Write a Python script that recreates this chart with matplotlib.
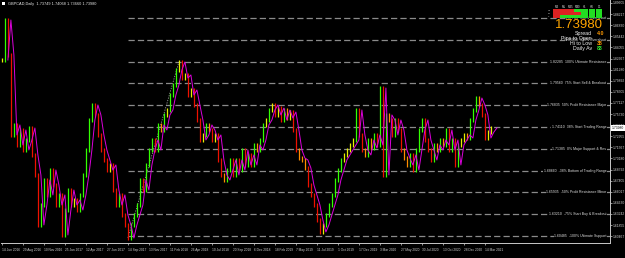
import numpy as np
import matplotlib
matplotlib.use("Agg")
import matplotlib.pyplot as plt
from matplotlib.patches import Rectangle
from matplotlib.transforms import blended_transform_factory

# ---------------- data ----------------
symbol_title = "GBPCAD,Daily  1.73749 1.74068 1.73660 1.73980"
closes = [
    1.8248, 1.8748, 1.8311, 1.7311, 1.7436, 1.7186, 1.7373, 1.7123, 1.7248, 1.7398,
    1.7061, 1.6811, 1.6186, 1.6436, 1.6748, 1.6561, 1.6873, 1.6686, 1.6436, 1.6561,
    1.6061, 1.6373, 1.6623, 1.6436, 1.6498, 1.6373, 1.6561, 1.6811, 1.7123, 1.7498,
    1.7686, 1.7561, 1.7311, 1.7123, 1.6998, 1.6873, 1.6936, 1.6623, 1.6436, 1.6561,
    1.6311, 1.6186, 1.6023, 1.6186, 1.6311, 1.6436, 1.6748, 1.6623, 1.6936, 1.7123,
    1.7248, 1.7123, 1.7436, 1.7373, 1.7561, 1.7623, 1.7811, 1.7936, 1.8123, 1.8223,
    1.8023, 1.8061, 1.7811, 1.7873, 1.7686, 1.7498, 1.7248, 1.7311, 1.7436, 1.7373,
    1.7248, 1.7311, 1.6998, 1.6811, 1.6748, 1.6873, 1.6998, 1.6811, 1.6998, 1.6873,
    1.7123, 1.6936, 1.7061, 1.6936, 1.7186, 1.7123, 1.7248, 1.7436, 1.7498, 1.7623,
    1.7686, 1.7561, 1.7648, 1.7498, 1.7623, 1.7523, 1.7598, 1.7373, 1.7123, 1.7023,
    1.6998, 1.6898, 1.6686, 1.6561, 1.6436, 1.6248, 1.6098, 1.6186, 1.6311, 1.6436,
    1.6561, 1.6748, 1.6873, 1.6998, 1.7061, 1.7123, 1.7186, 1.7248, 1.7623, 1.7311,
    1.7123, 1.7061, 1.7248, 1.7148, 1.7311, 1.7186, 1.7898, 1.6811, 1.7561, 1.7498,
    1.7311, 1.7498, 1.7373, 1.7123, 1.7023, 1.6936, 1.7061, 1.6873, 1.7123, 1.7373,
    1.7498, 1.7248, 1.7123, 1.6998, 1.7186, 1.7123, 1.7248, 1.7186, 1.7373, 1.7123,
    1.7248, 1.6936, 1.7186, 1.7248, 1.7311, 1.7273, 1.7498, 1.7623, 1.7773, 1.7686,
    1.7561, 1.7273, 1.7348, 1.7398,
]
date_labels = ["14 Jun 2016", "29 Aug 2016", "10 Nov 2016", "25 Jan 2017", "12 Apr 2017",
               "27 Jun 2017", "14 Sep 2017", "13 Nov 2017", "11 Feb 2018", "26 Apr 2018",
               "10 Jul 2018", "20 Sep 2018", "6 Dec 2018", "18 Feb 2019", "7 May 2019",
               "11 Jul 2019", "1 Oct 2019", "17 Dec 2019", "3 Mar 2020", "27 May 2020",
               "30 Jul 2020", "13 Oct 2020", "28 Dec 2020", "14 Mar 2021"]
fib_levels = [1.87735, 1.85010, 1.82285, 1.79560, 1.76835, 1.74110,
              1.71385, 1.68660, 1.65935, 1.63210, 1.60485]
fib_names = ["150% Overshoot", "125% Overshoot", "100% Ultimate Resistance",
             "75% Start Sell & Breakout", "50% Profit Resistance Major",
             "38% Start Trading Range", "0% Major Support & Res",
             "-38% Bottom of Trading Range", "-50% Profit Resistance Minor",
             "-75% Start Buy & Breakout", "-100% Ultimate Support"]
fib_start_index = 42
trend_from, trend_to = 42, 59
timeframes = ["M1", "M5", "M15", "M30", "H1", "H4", "D1"]
strength_rows = [[0, 0, 0, 1, 1, 1, 1],
                 [0, 0, 0, 0, 1, 1, 1],
                 [0, 1, 1, 1, 1, 1, 1]]
price_now = "1.73980"
spread_val = "4.0"
hilo_val = "38"
daily_av_val = "83"

# ---------------- figure ----------------
W, H = 625, 258
fig = plt.figure(figsize=(W / 100, H / 100), dpi=100, facecolor="black")
ax = fig.add_axes([1 / W, (H - 243) / H, 609 / W, 243 / H], facecolor="black")

narrow = ["Liberation Sans Narrow", "Liberation Sans", "DejaVu Sans"]

c = np.array(closes)
idx = np.arange(len(c))
prev = np.concatenate([[c[0]], c[:-1]])
d = c - prev
lo = np.minimum(prev, c) - 0.003
hi = np.maximum(prev, c) + 0.003
cols = []
for v in d:
    if v > 0.012:
        cols.append("#33ff00")
    elif v >= 0:
        cols.append("#e8f000")
    elif v > -0.012:
        cols.append("#ff8c00")
    else:
        cols.append("#ee1100")

# fib dashed lines
x0 = -0.3
xr = x0 + 609 / 3
for lvl in fib_levels:
    ax.plot([fib_start_index, xr], [lvl, lvl], color="#8a8a8a", lw=0.9,
            ls=(0, (5, 2.5)), zorder=1)

# trend line
ax.plot([trend_from, trend_to], [c[trend_from], c[trend_to]], color="#9a9a9a",
        lw=0.6, ls=(0, (1.5, 1.5)), zorder=2)

ax.vlines(idx, lo, hi, colors=cols, lw=0.9, zorder=3)
ax.plot(idx + 2, c, color="#dd00dd", lw=0.7, zorder=4)

ax.set_xlim(x0, xr)
ax.set_ylim(1.8998 - 0.00125 * 243, 1.8998)

# fib labels
tr = blended_transform_factory(ax.transAxes, ax.transData)
for lvl, name in zip(fib_levels, fib_names):
    ax.text(0.994, lvl, f"{lvl:.5f}  {name}", transform=tr, ha="right", va="center",
            fontsize=2.5, color="#e0e0e0", family=narrow, zorder=6,
            bbox=dict(facecolor="black", edgecolor="none", pad=0.2))

# axes styling
for s in ["left", "top"]:
    ax.spines[s].set_visible(False)
for s in ["right", "bottom"]:
    ax.spines[s].set_color("#c8c8c8")
    ax.spines[s].set_linewidth(0.7)
ax.yaxis.tick_right()
yt = np.arange(1.89605, 1.596, -0.013875)
ax.set_yticks(yt)
ax.set_yticklabels([f"{v:.5f}" for v in yt])
ax.tick_params(axis="y", colors="#d0d0d0", labelsize=2.4, length=1.2, width=0.5, pad=0.8)
ax.set_xticks(np.arange(len(date_labels)) * 7)
ax.set_xticklabels(date_labels)
ax.tick_params(axis="x", colors="#d0d0d0", labelsize=2.3, length=1.5, width=0.5, pad=1.8)
for lab in ax.get_xticklabels() + ax.get_yticklabels():
    lab.set_family(narrow)
for lab in ax.get_xticklabels():
    lab.set_ha("left")

# current price box
ax.text(1.003, c[-1], price_now, transform=tr, ha="left", va="center", fontsize=2.4,
        color="black", family=narrow, clip_on=False, zorder=7,
        bbox=dict(facecolor="white", edgecolor="none", pad=0.4))

# title
def P(x, y):
    return (x / W, 1 - y / H)

fig.patches.append(Rectangle(P(2, 5), 3 / W, 3 / H, transform=fig.transFigure,
                             facecolor="white", edgecolor="none"))
fig.text(*P(8, 3.5), symbol_title, fontsize=2.8, color="#e8e8e8", va="center",
         family=narrow)

# strength panel
colw = 7.1
for j, tf in enumerate(timeframes):
    fig.text(*P(553 + colw * j + colw / 2, 7), tf, fontsize=2.0, color="#e0e0e0",
             ha="center", va="center", family=narrow)
for r, row in enumerate(strength_rows):
    for j, v in enumerate(row):
        fig.patches.append(Rectangle(P(553 + colw * j, 11.5 + 3 * r), (colw - 0.4) / W, 2.2 / H,
                                     transform=fig.transFigure,
                                     facecolor="#22dd22" if v else "#dd2222",
                                     edgecolor="none", zorder=5))
for r, t in enumerate(["ST", "MT", "LT"]):
    fig.text(*P(549, 10.5 + 3 * r), t, fontsize=1.6, color="#e0e0e0", ha="center",
             va="center", family=narrow)

fig.text(*P(603, 24.5), price_now, fontsize=9.5, color="#ffa500", ha="right", va="center",
         family=narrow, zorder=8)
rows = [("Spread", spread_val, "#ff9900", 33.5),
        ("Pips to Open", "", "#ff9900", 38.5),
        ("Hi to Low", hilo_val, "#ff9900", 43.5),
        ("Daily Av", daily_av_val, "#33ee33", 48.5)]
for lab, val, colr, yy in rows:
    fig.text(*P(592, yy), lab, fontsize=3.8, color="#f0f0f0", ha="right", va="center",
             family=narrow, zorder=8)
    if val:
        fig.text(*P(597, yy), val, fontsize=3.8, color=colr, ha="left", va="center",
                 family=narrow, zorder=8, weight="bold")

fig.savefig("out.png", dpi=100, facecolor="black")
